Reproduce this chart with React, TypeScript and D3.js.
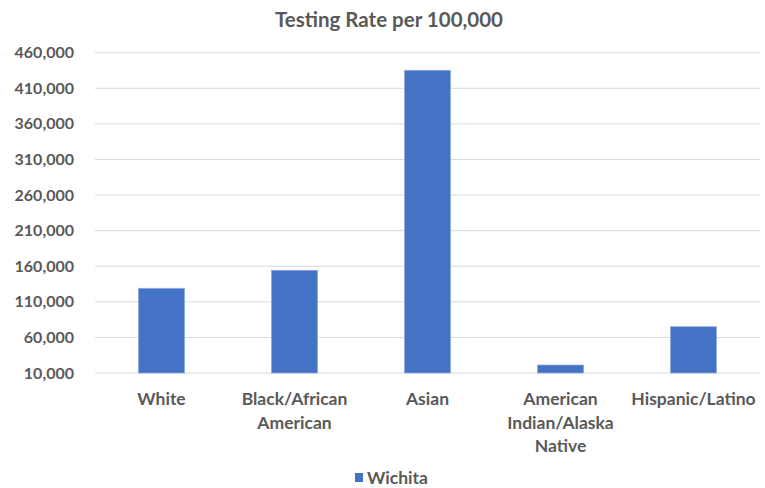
import React from "react";
import * as d3 from "d3";

const categories: string[][] = [
  ["White"],
  ["Black/African", "American"],
  ["Asian"],
  ["American", "Indian/Alaska", "Native"],
  ["Hispanic/Latino"],
];
const wichita: number[] = [129000, 154300, 435300, 21200, 75000];
const yTicks: number[] = [10000, 60000, 110000, 160000, 210000, 260000, 310000, 360000, 410000, 460000];
const seriesName = "Wichita";
const title = "Testing Rate per 100,000";

const W = 765;
const H = 488;
const FONT = "Lato, 'Open Sans', sans-serif";
const TEXT = "#595959";
const BAR = "#4472C4";

export default function App() {
  const x = d3
    .scaleBand<number>()
    .domain(d3.range(categories.length))
    .range([95, 760])
    .paddingInner(0.654)
    .paddingOuter(0.327);
  const y = d3.scaleLinear().domain([10000, 460000]).range([373, 52.7]);
  const fmt = d3.format(",");

  return (
    <svg
      width={W}
      height={H}
      style={{ position: "absolute", left: 0, top: 0, background: "#fff" }}
      fontFamily={FONT}
    >
      <text x={389} y={27} textAnchor="middle" fontSize={20.5} fontWeight="bold" fill={TEXT}>
        {title}
      </text>
      {yTicks.map((t) => (
        <g key={t}>
          <line x1={95} x2={760} y1={y(t)} y2={y(t)} stroke="#d9d9d9" strokeWidth={1} />
          <text x={74} y={y(t) + 5.5} textAnchor="end" fontSize={16} fontWeight="bold" fill={TEXT}>
            {fmt(t)}
          </text>
        </g>
      ))}
      {wichita.map((v, i) => (
        <rect
          key={i}
          x={x(i)!}
          y={y(v)}
          width={x.bandwidth()}
          height={y(10000) - y(v)}
          fill={BAR}
          stroke="#8faadc"
          strokeWidth={0.75}
        />
      ))}
      {categories.map((lines, i) => (
        <text
          key={i}
          x={x(i)! + x.bandwidth() / 2}
          y={405}
          textAnchor="middle"
          fontSize={17.5}
          fontWeight="bold"
          fill={TEXT}
        >
          {lines.map((l, j) => (
            <tspan key={j} x={x(i)! + x.bandwidth() / 2} dy={j === 0 ? 0 : 23.5}>
              {l}
            </tspan>
          ))}
        </text>
      ))}
      <rect x={355} y={473} width={8} height={9} fill={BAR} />
      <text x={367} y={484} fontSize={17.5} fontWeight="bold" fill={TEXT}>
        {seriesName}
      </text>
    </svg>
  );
}
